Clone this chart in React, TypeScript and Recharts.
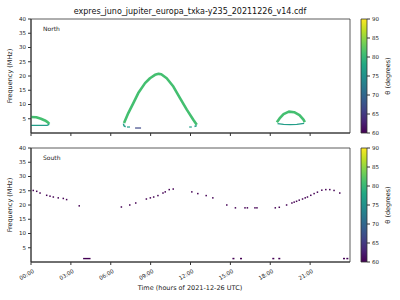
import { ComposedChart, Line, Scatter, XAxis, YAxis, ReferenceArea } from 'recharts';

// axis ticks
const hourTicks = [0, 3, 6, 9, 12, 15, 18, 21];
const freqTicks = [5, 10, 15, 20, 25, 30, 35, 40];
const thetaTicks = [60, 65, 70, 75, 80, 85, 90];
const hourLabels = ['00:00', '03:00', '06:00', '09:00', '12:00', '15:00', '18:00', '21:00'];

// North hemisphere emission (t = hours, f = MHz), theta per series
const northLeftUpper = [
  { t: 0, f: 5.6 }, { t: 0.4, f: 5.5 }, { t: 0.75, f: 5.0 }, { t: 1.05, f: 4.4 },
  { t: 1.25, f: 3.8 }, { t: 1.38, f: 3.2 },
];
const northLeftLower = [{ t: 0, f: 2.65 }, { t: 1.2, f: 2.65 }, { t: 1.38, f: 3.0 }];
const northMainArc = [
  { t: 7.0, f: 3.5 }, { t: 7.32, f: 7.0 }, { t: 7.7, f: 10.5 }, { t: 8.07, f: 14.0 },
  { t: 8.58, f: 17.5 }, { t: 8.95, f: 19.2 }, { t: 9.33, f: 20.4 }, { t: 9.6, f: 20.75 },
  { t: 9.8, f: 20.6 }, { t: 10.21, f: 19.2 }, { t: 10.71, f: 16.3 }, { t: 11.21, f: 12.2 },
  { t: 11.72, f: 8.2 }, { t: 12.21, f: 4.65 }, { t: 12.47, f: 2.9 },
];
const northMainFootL = [{ t: 6.95, f: 3.3 }, { t: 7.0, f: 2.5 }, { t: 7.12, f: 2.2 }];
const northMainFootR = [{ t: 12.3, f: 2.3 }, { t: 12.47, f: 2.6 }];
const northDashTealA = [{ t: 7.22, f: 2.1 }, { t: 7.45, f: 2.1 }];
const northDashTealB = [{ t: 11.9, f: 2.1 }, { t: 12.1, f: 2.1 }];
const northDashBlue = [{ t: 7.83, f: 1.75 }, { t: 8.28, f: 1.75 }];
const northRightUpper = [
  { t: 18.5, f: 3.8 }, { t: 18.7, f: 5.1 }, { t: 19.0, f: 6.6 }, { t: 19.4, f: 7.5 },
  { t: 19.8, f: 7.3 }, { t: 20.2, f: 6.3 }, { t: 20.5, f: 4.7 }, { t: 20.6, f: 3.8 },
];
const northRightLower = [
  { t: 18.55, f: 3.3 }, { t: 19.0, f: 3.05 }, { t: 19.5, f: 2.95 }, { t: 20.0, f: 3.05 },
  { t: 20.55, f: 3.4 },
];

// South hemisphere emission (all theta ~60)
const southDots = [
  { t: 0.17, f: 25.1 }, { t: 0.43, f: 24.8 }, { t: 0.68, f: 24.2 }, { t: 1.18, f: 23.4 },
  { t: 1.43, f: 23.1 }, { t: 1.68, f: 22.8 }, { t: 2.05, f: 22.5 }, { t: 2.43, f: 22.3 },
  { t: 2.68, f: 21.9 }, { t: 3.63, f: 19.7 }, { t: 6.8, f: 19.3 }, { t: 7.43, f: 20.0 },
  { t: 7.88, f: 20.7 }, { t: 8.68, f: 22.1 }, { t: 8.98, f: 22.5 }, { t: 9.23, f: 22.8 },
  { t: 9.55, f: 23.3 }, { t: 9.93, f: 24.2 }, { t: 10.1, f: 24.6 }, { t: 10.4, f: 25.4 },
  { t: 10.7, f: 25.6 }, { t: 12.1, f: 24.6 }, { t: 12.55, f: 24.0 }, { t: 13.18, f: 23.3 },
  { t: 13.68, f: 22.5 }, { t: 14.73, f: 20.0 }, { t: 15.38, f: 19.0 }, { t: 16.1, f: 19.0 },
  { t: 16.28, f: 19.0 }, { t: 16.85, f: 19.0 }, { t: 17.0, f: 19.0 }, { t: 18.38, f: 19.0 },
  { t: 18.68, f: 19.2 }, { t: 19.23, f: 20.0 }, { t: 19.63, f: 20.7 }, { t: 19.8, f: 21.0 },
  { t: 19.98, f: 21.3 }, { t: 20.18, f: 21.7 }, { t: 20.43, f: 22.1 }, { t: 20.63, f: 22.5 },
  { t: 20.8, f: 22.8 }, { t: 21.05, f: 23.4 }, { t: 21.3, f: 24.0 }, { t: 21.55, f: 24.5 },
  { t: 21.88, f: 25.2 }, { t: 22.18, f: 25.4 }, { t: 22.48, f: 25.4 }, { t: 22.8, f: 25.1 },
  { t: 23.23, f: 24.2 },
];
const southGroundDots = [
  { t: 15.23, f: 1.2 }, { t: 15.8, f: 1.2 }, { t: 18.23, f: 1.2 }, { t: 18.68, f: 1.2 },
  { t: 23.55, f: 1.2 }, { t: 23.8, f: 1.2 },
];
const southGroundDash = [{ t: 3.92, f: 1.2 }, { t: 4.48, f: 1.2 }];

const thetaArc = 81;
const thetaEdge = 76.5;
const thetaBlue = 66.5;
const thetaSouth = 60;

const viridis = ['#440154', '#482475', '#414487', '#355f8d', '#2a788e', '#21918c', '#22a884', '#44bf70', '#7ad151', '#bddf26', '#fde725'];

function hex(c: string) {
  return [1, 3, 5].map((i) => parseInt(c.slice(i, i + 2), 16));
}
function thetaColor(theta: number) {
  const u = Math.min(1, Math.max(0, (theta - 60) / 30)) * 10;
  const i = Math.min(9, Math.floor(u));
  const a = hex(viridis[i]);
  const b = hex(viridis[i + 1]);
  const k = u - i;
  const m = a.map((v, j) => Math.round(v + (b[j] - v) * k));
  return `rgb(${m[0]},${m[1]},${m[2]})`;
}

const font = 'DejaVu Sans, sans-serif';
const ink = '#333';

const RotTick = ({ x, y, payload }: any) => {
  const px = x + 1;
  const py = y + 1;
  return (
    <text x={px} y={py} dy={5} transform={`rotate(-30, ${px}, ${py})`} textAnchor="end" fontSize={5.5} fill="#222" fontFamily={font}>
      {hourLabels[hourTicks.indexOf(payload.value)]}
    </text>
  );
};

const dotShape = (size: number) => (props: any) => (
  <rect x={props.cx - size / 2} y={props.cy - 0.75} width={size} height={1.5} fill={thetaColor(thetaSouth)} />
);

function Panel({ top, height, bottomLabels, children }: any) {
  return (
    <div style={{ position: 'absolute', left: 0, top, width: 360, height }}>
      <ComposedChart width={360} height={height} margin={{ top: 19, right: 10, left: 0, bottom: bottomLabels ? 7 : 12 }}>
        <XAxis
          type="number"
          dataKey="t"
          domain={[0, 24]}
          ticks={hourTicks}
          allowDataOverflow
          height={bottomLabels ? 30 : 5}
          tickSize={3}
          stroke={ink}
          tick={bottomLabels ? <RotTick /> : () => <g />}
        />
        <YAxis
          type="number"
          dataKey="f"
          domain={[0, 40]}
          ticks={freqTicks}
          allowDataOverflow
          width={31}
          tickSize={3}
          tickMargin={2}
          stroke={ink}
          tick={{ fontSize: 5.5, fill: '#222', fontFamily: font }}
        />
        {children}
        <ReferenceArea x1={0} x2={24} y1={0} y2={40} fill="none" stroke={ink} strokeWidth={0.8} />
      </ComposedChart>
    </div>
  );
}

const barData = thetaTicks.map((v) => ({ v }));

function ColorBar({ top, id }: any) {
  return (
    <div style={{ position: 'absolute', left: 350, top, width: 50, height: 150 }}>
      <ComposedChart width={50} height={150} data={barData} margin={{ top: 19, right: 3, left: 11, bottom: 17 }}>
        <defs>
          <linearGradient id={id} x1="0" y1="1" x2="0" y2="0">
            {viridis.map((c, i) => (
              <stop key={c} offset={`${i * 10}%`} stopColor={c} />
            ))}
          </linearGradient>
        </defs>
        <XAxis hide height={0} />
        <YAxis
          type="number"
          dataKey="v"
          orientation="right"
          domain={[60, 90]}
          ticks={thetaTicks}
          width={30}
          tickSize={3}
          tickMargin={2}
          axisLine={false}
          stroke={ink}
          tick={{ fontSize: 5.5, fill: '#222', fontFamily: font, textAnchor: 'start' }}
        />
        <Line dataKey="v" stroke="none" dot={false} isAnimationActive={false} />
        <ReferenceArea y1={60} y2={90} fill={`url(#${id})`} fillOpacity={1} stroke={ink} strokeWidth={0.8} />
      </ComposedChart>
    </div>
  );
}

const seg = (data: any[], theta: number, w: number, key: string) => (
  <Line key={key} data={data} dataKey="f" stroke={thetaColor(theta)} strokeWidth={w} dot={false} isAnimationActive={false} strokeLinecap="butt" strokeLinejoin="round" />
);

export default function App() {
  return (
    <div style={{ position: 'absolute', left: 0, top: 0, width: 400, height: 300, background: '#fff' }}>
      <Panel top={0} height={150} bottomLabels={false}>
        {seg(northLeftUpper, thetaArc, 2.6, 'lu')}
        {seg(northLeftLower, thetaEdge, 1.3, 'll')}
        {seg(northMainArc, thetaArc, 2.6, 'ma')}
        {seg(northMainFootL, thetaEdge, 1.5, 'fl')}
        {seg(northMainFootR, thetaEdge, 1.5, 'fr')}
        {seg(northDashTealA, thetaEdge, 1.2, 'da')}
        {seg(northDashTealB, thetaEdge, 1.2, 'db')}
        {seg(northDashBlue, thetaBlue, 1.2, 'bl')}
        {seg(northRightUpper, thetaArc, 2.6, 'ru')}
        {seg(northRightLower, thetaEdge, 1.3, 'rl')}
      </Panel>
      <Panel top={129} height={170} bottomLabels={true}>
        {seg(southGroundDash, thetaSouth, 1.4, 'gd')}
        <Scatter data={southDots} fill={thetaColor(thetaSouth)} shape={dotShape(1.5)} isAnimationActive={false} />
        <Scatter data={southGroundDots} fill={thetaColor(thetaSouth)} shape={dotShape(2)} isAnimationActive={false} />
      </Panel>
      <ColorBar top={0} id="vN" />
      <ColorBar top={129} id="vS" />
      <svg width={400} height={300} style={{ position: 'absolute', left: 0, top: 0, pointerEvents: 'none' }} fontFamily={font}>
        <text x={190} y={14} textAnchor="middle" fontSize={8} fill="#111">expres_juno_jupiter_europa_txka-y235_20211226_v14.cdf</text>
        <text x={43} y={31} fontSize={6} fill="#222">North</text>
        <text x={43} y={160} fontSize={6} fill="#222">South</text>
        <text x={12} y={76} textAnchor="middle" fontSize={6.5} fill="#222" transform="rotate(-90, 12, 76)">Frequency (MHz)</text>
        <text x={12} y={205} textAnchor="middle" fontSize={6.5} fill="#222" transform="rotate(-90, 12, 205)">Frequency (MHz)</text>
        <text x={190} y={290} textAnchor="middle" fontSize={6.5} fill="#222">Time (hours of 2021-12-26 UTC)</text>
        <text x={390} y={76} textAnchor="middle" fontSize={6.5} fill="#222" transform="rotate(-90, 390, 76)">θ (degrees)</text>
        <text x={390} y={205} textAnchor="middle" fontSize={6.5} fill="#222" transform="rotate(-90, 390, 205)">θ (degrees)</text>
      </svg>
    </div>
  );
}
